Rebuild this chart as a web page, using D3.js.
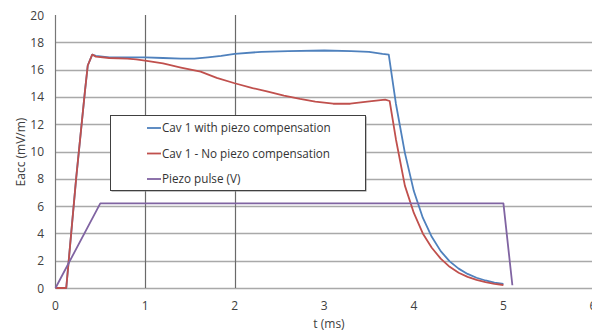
<!DOCTYPE html>
<html>
<head>
<meta charset="utf-8">
<script src="https://cdn.jsdelivr.net/npm/d3@7"></script>
<style>
  body { margin: 0; background: #fff; }
  svg { display: block; }
  text { font-family: 'Open Sans', 'Liberation Sans', sans-serif; }
</style>
</head>
<body>
<div id="chart"></div>
<script>
// Data (t in ms)
const seriesNames = ['Cav 1 with piezo compensation', 'Cav 1 - No piezo compensation', 'Piezo pulse (V)'];
const seriesColors = ['#4f81bd', '#c0504d', '#8064a2'];

const tBlue = [0, 0.12, 0.23, 0.33, 0.36, 0.41, 0.45, 0.6, 0.8, 1.0, 1.2, 1.4, 1.55, 1.7, 1.85, 2.0, 2.3, 2.6, 3.0, 3.3, 3.5, 3.65, 3.72,
  3.8, 3.9, 4.0, 4.1, 4.2, 4.3, 4.4, 4.5, 4.6, 4.7, 4.8, 4.9, 5.0];
const vBlue = [0, 0, 8, 14.5, 16.3, 17.1, 17.0, 16.9, 16.9, 16.9, 16.85, 16.8, 16.8, 16.9, 17.0, 17.15, 17.3, 17.35, 17.4, 17.35, 17.3, 17.15, 17.1,
  13.5, 9.9, 7.1, 5.15, 3.75, 2.7, 1.95, 1.42, 1.03, 0.75, 0.55, 0.4, 0.3];

const tRed = [0, 0.12, 0.23, 0.33, 0.36, 0.41, 0.45, 0.6, 0.8, 0.9, 1.0, 1.2, 1.4, 1.62, 1.8, 2.0, 2.2, 2.36, 2.55, 2.73, 2.9, 3.1, 3.29, 3.48, 3.68, 3.73,
  3.8, 3.9, 4.0, 4.1, 4.2, 4.3, 4.4, 4.5, 4.6, 4.7, 4.8, 4.9, 5.0];
const vRed = [0, 0, 8, 14.5, 16.3, 17.1, 16.95, 16.85, 16.8, 16.75, 16.65, 16.45, 16.15, 15.85, 15.4, 15.0, 14.65, 14.4, 14.1, 13.85, 13.65, 13.5, 13.5, 13.65, 13.8, 13.7,
  10.9, 7.5, 5.5, 4.0, 2.95, 2.15, 1.55, 1.12, 0.82, 0.6, 0.43, 0.31, 0.22];

const tPiezo = [0, 0.5, 5.0, 5.1];
const vPiezo = [0, 6.2, 6.2, 0.2];

const xTicks = [0, 1, 2, 3, 4, 5, 6];
const yTicks = [0, 2, 4, 6, 8, 10, 12, 14, 16, 18, 20];
const xGrid = [1, 2];

const width = 592, height = 334;

const svg = d3.select('#chart')
  .append('svg')
  .attr('width', width)
  .attr('height', height);

const x = d3.scaleLinear().domain([0, 6]).range([55.5, 593]);
const y = d3.scaleLinear().domain([0, 20]).range([288, 15]);

//Horizontal gridlines
svg.append('g')
  .selectAll('line')
  .data(yTicks.filter(d => d < 20))
  .join('line')
  .attr('x1', x(0))
  .attr('x2', width)
  .attr('y1', d => Math.round(y(d)) + 0.5)
  .attr('y2', d => Math.round(y(d)) + 0.5)
  .attr('stroke', '#a9a9a9')
  .attr('stroke-width', 1.6);

//Vertical gridlines at 1 and 2 ms
svg.append('g')
  .selectAll('line')
  .data(xGrid)
  .join('line')
  .attr('x1', d => Math.round(x(d)) + 0.5)
  .attr('x2', d => Math.round(x(d)) + 0.5)
  .attr('y1', y(20))
  .attr('y2', y(0))
  .attr('stroke', '#6a6a6a')
  .attr('stroke-width', 1.2);

//Y axis line
svg.append('line')
  .attr('x1', 55.5).attr('x2', 55.5)
  .attr('y1', y(20)).attr('y2', y(0))
  .attr('stroke', '#777')
  .attr('stroke-width', 1.2);

//Tick labels
svg.append('g')
  .selectAll('text')
  .data(yTicks)
  .join('text')
  .attr('x', 44)
  .attr('y', d => y(d) + 4.5)
  .attr('text-anchor', 'end')
  .attr('font-size', 12)
  .attr('fill', '#404040')
  .text(d => d);

svg.append('g')
  .selectAll('text')
  .data(xTicks)
  .join('text')
  .attr('x', d => x(d))
  .attr('y', 310)
  .attr('text-anchor', 'middle')
  .attr('font-size', 12)
  .attr('fill', '#404040')
  .text(d => d);

//Axis titles
svg.append('text')
  .attr('x', 329)
  .attr('y', 328)
  .attr('text-anchor', 'middle')
  .attr('font-size', 12)
  .attr('fill', '#404040')
  .text('t (ms)');

svg.append('text')
  .attr('transform', 'translate(25,152) rotate(-90)')
  .attr('text-anchor', 'middle')
  .attr('font-size', 12)
  .attr('fill', '#404040')
  .text('Eacc (mV/m)');

//Series lines
const series = [
  { name: seriesNames[0], color: seriesColors[0], pts: tBlue.map((t, i) => [t, vBlue[i]]) },
  { name: seriesNames[1], color: seriesColors[1], pts: tRed.map((t, i) => [t, vRed[i]]) },
  { name: seriesNames[2], color: seriesColors[2], pts: tPiezo.map((t, i) => [t, vPiezo[i]]) }
];

const line = d3.line()
  .x(d => x(d[0]))
  .y(d => y(d[1]));

svg.append('g')
  .selectAll('path')
  .data(series)
  .join('path')
  .attr('d', d => line(d.pts))
  .attr('fill', 'none')
  .attr('stroke', d => d.color)
  .attr('stroke-width', 1.8)
  .attr('stroke-linejoin', 'round');

//Legend
const legend = svg.append('g');
legend.append('rect')
  .attr('x', 111.5).attr('y', 116.5)
  .attr('width', 255).attr('height', 75)
  .attr('fill', '#888');
legend.append('rect')
  .attr('x', 110.5).attr('y', 115.5)
  .attr('width', 255).attr('height', 75)
  .attr('fill', '#fff')
  .attr('stroke', '#404040')
  .attr('stroke-width', 1);

const rows = [128, 153.5, 179];
legend.selectAll('.key')
  .data(series)
  .join('line')
  .attr('class', 'key')
  .attr('x1', 147).attr('x2', 161)
  .attr('y1', (d, i) => rows[i]).attr('y2', (d, i) => rows[i])
  .attr('stroke', d => d.color)
  .attr('stroke-width', 1.8);

legend.selectAll('.label')
  .data(series)
  .join('text')
  .attr('class', 'label')
  .attr('x', 162)
  .attr('y', (d, i) => rows[i] + 4.2)
  .attr('font-size', 11.7)
  .attr('fill', '#333')
  .text(d => d.name);
</script>
</body>
</html>
